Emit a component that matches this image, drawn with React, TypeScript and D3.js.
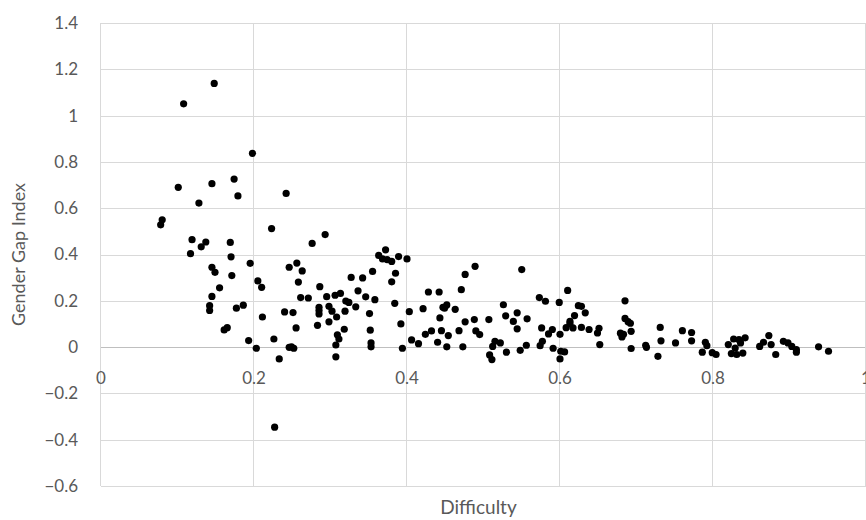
import { useEffect, useRef } from 'react';
import * as d3 from 'd3';

// difficulty values (x)
const difficulty = [
  0.148, 0.108, 0.198, 0.101, 0.145, 0.174, 0.179, 0.242, 0.128, 0.080, 0.078, 0.223,
  0.119, 0.137, 0.131, 0.169, 0.117, 0.170,
  0.195, 0.145, 0.149, 0.171, 0.246, 0.205, 0.210, 0.155, 0.145, 0.142, 0.142, 0.177,
  0.186, 0.211, 0.240, 0.161, 0.165, 0.193, 0.226, 0.203, 0.246, 0.233, 0.227,
  0.293, 0.276, 0.256, 0.263, 0.258, 0.286, 0.261, 0.271, 0.295, 0.306, 0.313, 0.320,
  0.324, 0.327, 0.342, 0.355, 0.336, 0.346, 0.358, 0.333, 0.285, 0.285, 0.285, 0.298,
  0.302, 0.308, 0.319, 0.251, 0.283, 0.298, 0.255, 0.318, 0.351, 0.352, 0.384, 0.392,
  0.403, 0.421, 0.428, 0.249, 0.252, 0.309, 0.311, 0.307, 0.307, 0.353, 0.353, 0.394,
  0.406, 0.415, 0.424, 0.432, 0.440, 0.363, 0.372, 0.368, 0.374, 0.380, 0.389, 0.400,
  0.385, 0.380, 0.442,
  0.443, 0.447, 0.452, 0.449, 0.463, 0.445, 0.454, 0.452, 0.471, 0.476, 0.489, 0.476,
  0.468, 0.488, 0.490, 0.495, 0.473, 0.507, 0.515, 0.522, 0.512, 0.508, 0.511, 0.526,
  0.529, 0.539, 0.544, 0.544, 0.550, 0.557, 0.530, 0.548, 0.556, 0.573, 0.581, 0.576,
  0.577, 0.574, 0.585, 0.590, 0.591, 0.599, 0.610, 0.600, 0.601, 0.606, 0.600, 0.608,
  0.613, 0.617, 0.619, 0.624, 0.628, 0.633, 0.628, 0.638,
  0.613, 0.651, 0.649, 0.652, 0.685, 0.685, 0.689, 0.692, 0.693, 0.679, 0.681, 0.683,
  0.693, 0.712, 0.713, 0.731, 0.732, 0.728, 0.751, 0.760, 0.772, 0.772, 0.790, 0.792,
  0.786, 0.799, 0.804,
  0.820, 0.827, 0.834, 0.842, 0.836, 0.824, 0.831, 0.829, 0.861, 0.866, 0.873, 0.876,
  0.882, 0.892, 0.898, 0.903, 0.909, 0.909, 0.938, 0.951, 0.839,
];

// gender gap index values (y)
const gapIndex = [
  1.139, 1.051, 0.837, 0.690, 0.706, 0.726, 0.653, 0.664, 0.622, 0.550, 0.528, 0.512,
  0.464, 0.454, 0.433, 0.452, 0.404, 0.390,
  0.362, 0.345, 0.323, 0.309, 0.345, 0.286, 0.258, 0.256, 0.219, 0.179, 0.158, 0.168,
  0.181, 0.130, 0.152, 0.074, 0.084, 0.028, 0.035, -0.005, -0.001, -0.051, -0.346,
  0.486, 0.448, 0.363, 0.329, 0.281, 0.261, 0.214, 0.212, 0.218, 0.224, 0.232, 0.199,
  0.193, 0.301, 0.299, 0.327, 0.243, 0.217, 0.205, 0.174, 0.172, 0.158, 0.143, 0.176,
  0.155, 0.130, 0.155, 0.149, 0.094, 0.109, 0.083, 0.077, 0.145, 0.073, 0.189, 0.100,
  0.153, 0.166, 0.238, 0.001, -0.005, 0.053, 0.035, 0.009, -0.042, 0.018, 0.001, -0.005,
  0.031, 0.015, 0.055, 0.070, 0.021, 0.396, 0.420, 0.381, 0.378, 0.370, 0.391, 0.381,
  0.319, 0.282, 0.238,
  0.126, 0.172, 0.182, 0.168, 0.163, 0.071, 0.050, 0.001, 0.248, 0.314, 0.349, 0.109,
  0.071, 0.119, 0.070, 0.054, 0.001, 0.119, 0.025, 0.018, 0.003, -0.034, -0.054, 0.183,
  0.135, 0.111, 0.148, 0.079, 0.335, 0.122, -0.022, -0.014, 0.008, 0.214, 0.198, 0.083,
  0.025, 0.006, 0.057, 0.076, -0.005, 0.193, 0.245, 0.055, -0.018, -0.021, -0.051, 0.084,
  0.101, 0.083, 0.136, 0.179, 0.176, 0.148, 0.085, 0.076,
  0.111, 0.081, 0.061, 0.011, 0.200, 0.124, 0.110, 0.103, 0.068, 0.060, 0.044, 0.055,
  -0.006, 0.008, -0.001, 0.085, 0.027, -0.040, 0.018, 0.071, 0.063, 0.027, 0.021, 0.006,
  -0.022, -0.024, -0.032,
  0.011, 0.035, 0.032, 0.040, 0.018, -0.028, -0.032, -0.004, 0.003, 0.021, 0.050, 0.011,
  -0.032, 0.025, 0.018, 0.003, -0.011, -0.022, 0.001, -0.018, -0.026,
];

const xTicks = [0, 0.2, 0.4, 0.6, 0.8, 1];
const yTicks = [-0.6, -0.4, -0.2, 0, 0.2, 0.4, 0.6, 0.8, 1, 1.2, 1.4];

export default function App() {
  const svgRef = useRef<SVGSVGElement>(null);

  useEffect(() => {
    const width = 866;
    const height = 520;
    const margin = { top: 23, right: 0, bottom: 34, left: 101 };
    const font = 'Lato, "Open Sans", sans-serif';

    const svg = d3.select(svgRef.current)
      .attr('width', width)
      .attr('height', height);
    svg.selectAll('*').remove();

    svg.append('rect').attr('width', width).attr('height', height).attr('fill', 'white');

    const x = d3.scaleLinear().domain([0, 1]).range([margin.left, width - margin.right]);
    const y = d3.scaleLinear().domain([-0.6, 1.4]).range([height - margin.bottom, margin.top]);

    // gridlines
    svg.append('g')
      .selectAll('line')
      .data(yTicks)
      .join('line')
      .attr('x1', x(0))
      .attr('x2', x(1))
      .attr('y1', d => Math.round(y(d)) + 0.5)
      .attr('y2', d => Math.round(y(d)) + 0.5)
      .attr('stroke', d => (d === 0 ? '#bfbfbf' : '#d9d9d9'))
      .attr('stroke-width', 1);

    svg.append('g')
      .selectAll('line')
      .data(xTicks)
      .join('line')
      .attr('x1', d => Math.round(x(d)) - 0.5)
      .attr('x2', d => Math.round(x(d)) - 0.5)
      .attr('y1', y(1.4))
      .attr('y2', y(-0.6))
      .attr('stroke', '#d9d9d9')
      .attr('stroke-width', 1);

    // y tick labels
    svg.append('g')
      .selectAll('text')
      .data(yTicks)
      .join('text')
      .attr('x', 78)
      .attr('y', d => y(d))
      .attr('dy', '0.35em')
      .attr('text-anchor', 'end')
      .attr('font-family', font)
      .attr('font-size', 17)
      .attr('fill', '#595959')
      .text(d => d3.format('')(d));

    // x tick labels sit under the zero line
    svg.append('g')
      .selectAll('text')
      .data(xTicks)
      .join('text')
      .attr('x', d => x(d))
      .attr('y', y(0) + 37)
      .attr('text-anchor', 'middle')
      .attr('font-family', font)
      .attr('font-size', 17)
      .attr('fill', '#595959')
      .text(d => d3.format('')(d));

    // points
    const points = difficulty.map((d, i) => ({ x: d, y: gapIndex[i] }));
    svg.append('g')
      .selectAll('circle')
      .data(points)
      .join('circle')
      .attr('cx', d => x(d.x))
      .attr('cy', d => y(d.y))
      .attr('r', 3.6)
      .attr('fill', '#000');

    // axis titles
    svg.append('text')
      .attr('x', (x(0) + x(1)) / 2 - 5)
      .attr('y', 514)
      .attr('text-anchor', 'middle')
      .attr('font-family', font)
      .attr('font-size', 19)
      .attr('fill', '#595959')
      .text('Difficulty');

    svg.append('text')
      .attr('transform', `translate(25,${(y(1.4) + y(-0.6)) / 2}) rotate(-90)`)
      .attr('text-anchor', 'middle')
      .attr('font-family', font)
      .attr('font-size', 18)
      .attr('fill', '#595959')
      .text('Gender Gap Index');
  }, []);

  return (
    <div style={{ position: 'absolute', left: 0, top: 0 }}>
      <svg ref={svgRef} style={{ display: 'block' }}></svg>
    </div>
  );
}
